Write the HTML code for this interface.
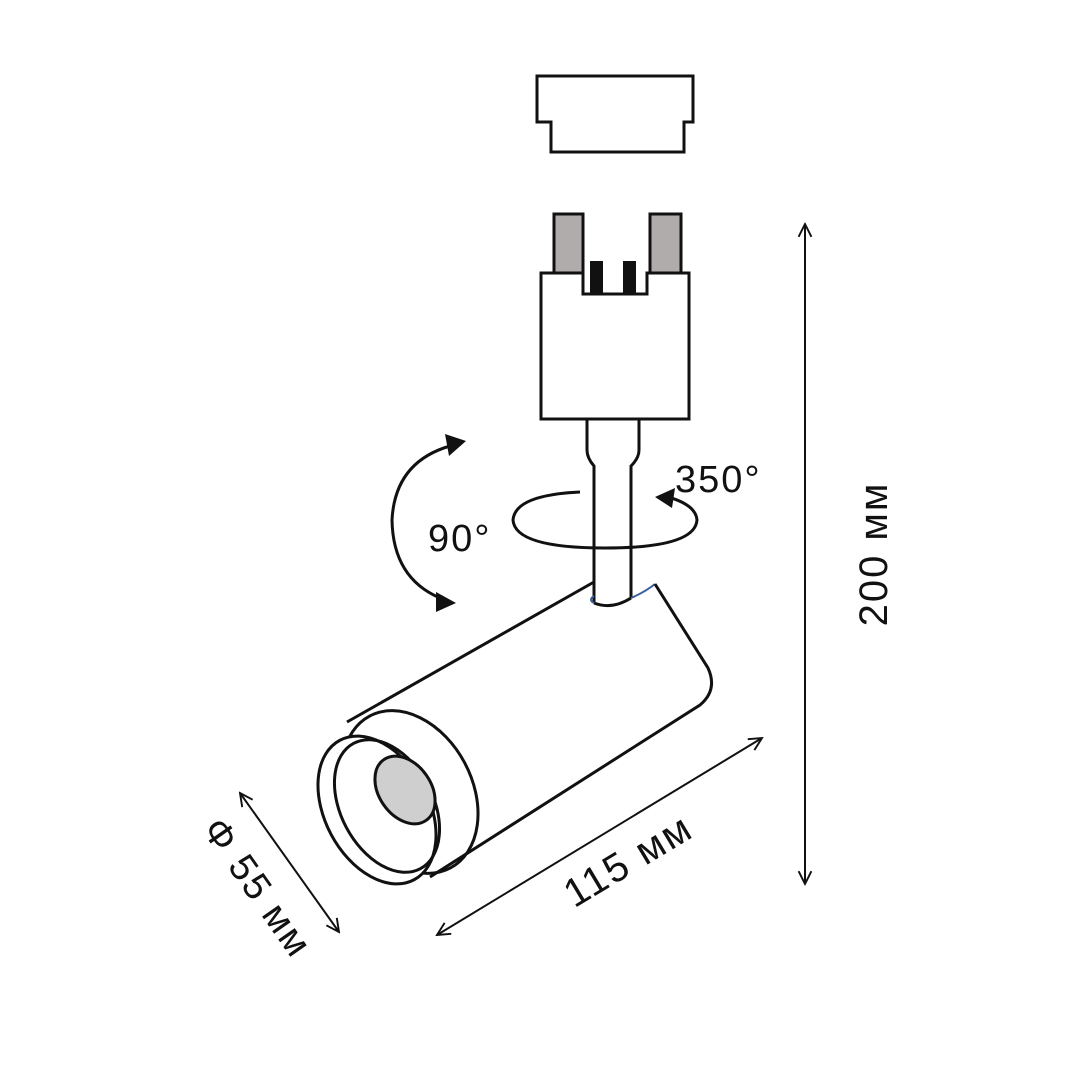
<!DOCTYPE html>
<html><head><meta charset="utf-8"><style>
html,body{margin:0;padding:0;background:#fff;}
svg{display:block}
text{font-family:"Liberation Sans",sans-serif;fill:#111;letter-spacing:2px;}
</style></head><body>
<svg width="1080" height="1080" viewBox="0 0 1080 1080" xmlns="http://www.w3.org/2000/svg">
<defs>
<marker id="ah" viewBox="0 0 10 10" refX="9" refY="5" markerWidth="16" markerHeight="16" orient="auto-start-reverse" markerUnits="userSpaceOnUse">
<path d="M1,1 L9,5 L1,9" fill="none" stroke="#111" stroke-width="1.2"/>
</marker>
</defs>
<g fill="none" stroke="#111" stroke-width="3">
<path d="M537,76 H693 V122 H684 V152 H551 V122 H537 Z"/>
<rect x="554" y="214" width="29" height="59" fill="#b0acab"/>
<rect x="650" y="214" width="31" height="59" fill="#b0acab"/>
<path d="M541,273 H583 V294 H647 V273 H689 V419 H541 Z" fill="#fff"/>
<rect x="590" y="261" width="13" height="32" fill="#111" stroke="none"/>
<rect x="623" y="261" width="13" height="32" fill="#111" stroke="none"/>
<path d="M587,419 V450 Q587,458 594,466 V602"/>
<path d="M639,419 V450 Q639,458 631,466 V598"/>
<path d="M594,603 Q612,610 631,598"/>
<path d="M594,603 Q588,600 594,596" stroke="#3a5fa0" stroke-width="2"/>
<path d="M631,598 Q645,592 655,584" stroke="#3a5fa0" stroke-width="2"/>
<path d="M347,722 L594,582"/>
<path d="M655,584 L708,668 Q718,690 700,705 L430,877"/>
<ellipse cx="410" cy="792" rx="62" ry="86" transform="rotate(-28 410 792)"/>
<ellipse cx="377" cy="810" rx="52" ry="79" transform="rotate(-28 377 810)" fill="#fff"/>
<ellipse cx="387" cy="806" rx="46" ry="71" transform="rotate(-28 387 806)"/>
<ellipse cx="405" cy="790" rx="26" ry="37" transform="rotate(-35 405 790)" fill="#cfcfcf"/>
</g>
<g fill="none" stroke="#111" stroke-width="3">
<path d="M450,446 Q395,462 392,520 Q393,578 440,598"/>
<path d="M580,492 Q515,495 513,520 Q515,548 605,548 Q695,548 697,520 Q696,505 668,497"/>
</g>
<g fill="#111">
<polygon points="466,441 445,434 449,456"/>
<polygon points="456,603 436,592 436,612"/>
<polygon points="655,497 675,488 672,508"/>
</g>
<g stroke="#111" stroke-width="2" fill="none">
<line x1="805" y1="224" x2="805" y2="884" marker-start="url(#ah)" marker-end="url(#ah)"/>
<line x1="437" y1="935" x2="762" y2="738" marker-start="url(#ah)" marker-end="url(#ah)"/>
<line x1="240" y1="793" x2="339" y2="932" marker-start="url(#ah)" marker-end="url(#ah)"/>
</g>
<text x="675" y="492" font-size="38">350°</text>
<text x="428" y="551" font-size="38">90°</text>
<text transform="translate(887,554) rotate(-90)" font-size="40" text-anchor="middle">200 мм</text>
<text transform="translate(635,872) rotate(-31)" font-size="40" text-anchor="middle">115 мм</text>
<text transform="translate(247,895) rotate(55)" font-size="38" text-anchor="middle">Φ 55 мм</text>
</svg>
</body></html>
